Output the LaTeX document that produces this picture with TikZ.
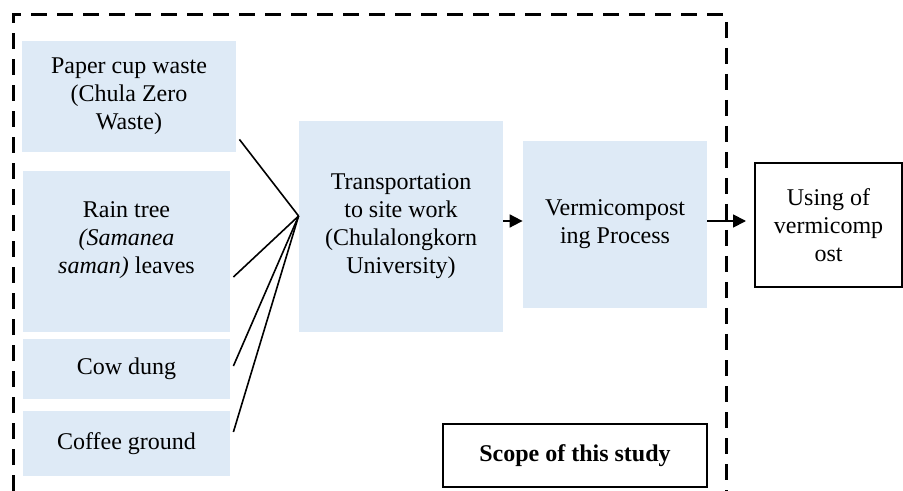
\documentclass[tikz,border=0pt]{standalone}
\usepackage{fontspec}
\setmainfont{Liberation Serif}
\usetikzlibrary{arrows.meta}
\definecolor{boxblue}{RGB}{222,234,246}

\begin{document}
\begin{tikzpicture}[x=0.5pt,y=-0.5pt,line join=miter,
    srcbox/.style={fill=boxblue,align=center,inner sep=2pt,font=\fontsize{12}{14}\selectfont},
    outbox/.style={draw=black,line width=1pt,fill=white,align=center,inner sep=2pt,font=\fontsize{12}{14}\selectfont},
    feed/.style={line width=0.8pt},
    flow/.style={line width=0.9pt,-{Triangle[length=6.5pt,width=6.5pt]}}]
\useasboundingbox (0,0) rectangle (903,491);

% scope frame (open at the bottom)
\draw[line width=1.5pt,dash pattern=on 8pt off 5pt] (13,491) -- (13,15) -- (726,15) -- (726,491);

% raw materials
\node[srcbox,minimum width=107pt,minimum height=55.5pt] (paper) at (129,96.5) {Paper cup waste\\(Chula Zero\\Waste)};
\node[srcbox,minimum width=103.5pt,minimum height=80.5pt] (rain) at (126.5,251.5) {Rain tree\\\textit{(Samanea}\\\textit{saman)} leaves\\\mbox{}};
\node[srcbox,minimum width=103.5pt,minimum height=30pt] (cow) at (126.5,369) {Cow dung};
\node[srcbox,minimum width=103.5pt,minimum height=32.5pt] (coffee) at (126.5,443.5) {Coffee ground};

% process
\node[srcbox,minimum width=102pt,minimum height=105.5pt] (trans) at (401,226.5) {Transportation\\to site work\\(Chulalongkorn\\University)};
\node[srcbox,minimum width=92pt,minimum height=83.5pt] (vermi) at (615,224.5) {Vermicompost\\ing Process};
\node[outbox,minimum width=73.5pt,minimum height=62pt] (using) at (828.5,225) {Using of\\vermicomp\\ost};
\node[outbox,minimum width=132pt,minimum height=31.5pt] (scope) at (575,455.5) {\textbf{Scope of this study}};

\coordinate (hub) at ([yshift=5.25pt]trans.west);
\draw[feed] ([xshift=1.5pt,yshift=6.5pt]paper.south east) -- (hub);
\draw[feed] ([xshift=1.5pt,yshift=-12.75pt]rain.east) -- (hub);
\draw[feed] ([xshift=1.5pt,yshift=1.5pt]cow.east) -- (hub);
\draw[feed] ([xshift=1.5pt,yshift=5.75pt]coffee.east) -- (hub);

\coordinate (vin) at ([yshift=1.75pt]vermi.west);
\coordinate (vout) at ([yshift=1.75pt]vermi.east);
\draw[flow] (trans.east |- vin) -- (vin);
\draw[flow,shorten >=4pt] (vout) -- (using.west |- vout);
\end{tikzpicture}
\end{document}
